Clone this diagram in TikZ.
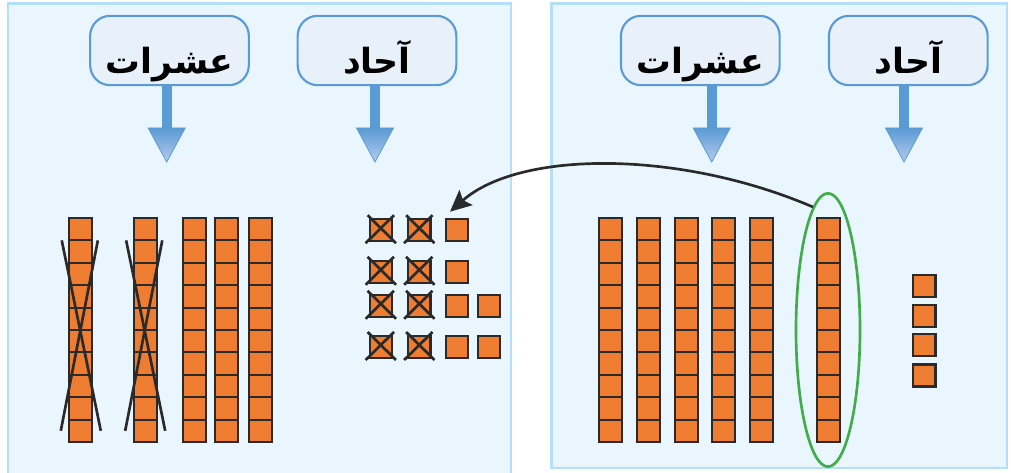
\documentclass[tikz,border=0pt]{standalone}
\usepackage{fontspec}
\usepackage{tikz}
\usetikzlibrary{arrows.meta,positioning,shapes.geometric}
\TeXXeTstate=1
\newfontfamily\arabicfont[Script=Arabic]{DejaVu Sans}
\definecolor{panelfill}{HTML}{EAF6FD}
\definecolor{panelline}{HTML}{B3E0F6}
\definecolor{boxline}{HTML}{5B9BD5}
\definecolor{boxfill}{HTML}{E8F1FA}
\definecolor{headlight}{HTML}{B4CBEC}
\definecolor{cellfill}{HTML}{EE7D31}
\definecolor{cellline}{HTML}{2A2A2A}
\definecolor{grpgreen}{HTML}{41AD4A}
\newcommand{\arlabel}[1]{{\arabicfont\bfseries\beginR #1\endR}}

\begin{document}
\begin{tikzpicture}[
  x=0.75pt, y=-0.75pt,
  font=\fontsize{26}{30}\selectfont,
  panel/.style={fill=panelfill, draw=panelline, line width=1.8pt},
  place/.style={draw=boxline, fill=boxfill, line width=1.6pt,
    rounded corners=15pt, minimum width=119pt, minimum height=52pt,
    inner sep=0pt, text height=35pt, text depth=0pt, align=center},
  shaft/.style={draw=boxline, line width=7.5pt},
  head/.style={top color=boxline, bottom color=headlight, draw=boxline,
    line width=0.6pt},
  cell/.style={draw=cellline, fill=cellfill, line width=1.6pt,
    minimum width=17.25pt, minimum height=16.8pt, inner sep=0pt,
    outer sep=0pt},
  unit/.style={cell, minimum width=16.8pt, minimum height=16.5pt},
  strike/.style={draw=cellline, line width=2pt},
  grp/.style={ellipse, draw=grpgreen, line width=2pt,
    minimum width=48pt, minimum height=205pt, inner sep=0pt},
  carryarr/.style={-{Stealth[length=16pt,width=15pt,inset=3pt]},
    draw=cellline, line width=2pt}
]
\clip (0,0) rectangle (1011,473);
\useasboundingbox (0,0) rectangle (1011,473);

\draw[panel] (8,3.5) rectangle (511,480);
\draw[panel] (551.5,3.5) rectangle (1007,468);

\node[place] (tensL) at (169.5,50.5) {\arlabel{عشرات}};
\node[place] (onesL) at (377,50.5) {\arlabel{آحاد}};
\node[place] (tensR) at (700.3,50.5) {\arlabel{عشرات}};
\node[place] (onesR) at (908.3,50.5) {\arlabel{آحاد}};

\foreach \b/\x in {tensL/166.7, onesL/375, tensR/711.7, onesR/904} {
  \coordinate (\b-tip) at (\x,129);
  \draw[shaft] (\b.south -| \b-tip) -- (\b-tip);
  \shade[head] (\x-18.5,128) -- (\x+18.5,128) -- (\x,162) -- cycle;
}

\foreach \r/\x in {L1/80.8, L2/145.2, L3/194.7, L4/226.7, L5/260.7,
    R1/610.8, R2/648.5, R3/686.2, R4/723.8, R5/761.8, R6/828.2}
  \foreach \j in {0,...,9}
    \node[cell] (\r-\j) at (\x,229.2+22.4*\j) {};

\foreach \r in {L1, L2} {
  \draw[strike] ([xshift=-14.3pt]\r-1.north) -- ([xshift=15pt]\r-9.center);
  \draw[strike] ([xshift=12.8pt]\r-1.north) -- ([xshift=-15pt]\r-9.center);
}

\foreach \i/\y/\n in {1/230.2/3, 2/271.8/3, 3/305.8/4, 4/347/4}
  \foreach \c/\x in {1/380.8, 2/419.3, 3/457, 4/488.8} {
    \ifnum\c>\n\relax\else
      \node[unit] (u\i\c) at (\x,\y) {};
    \fi
  }

\foreach \i in {1,...,4}
  \foreach \c in {1,2} {
    \draw[strike] ([shift={(-2,-4)}]u\i\c.north west)
      -- ([shift={(4,2)}]u\i\c.south east);
    \draw[strike] ([shift={(2,-4)}]u\i\c.north east)
      -- ([shift={(-4,2)}]u\i\c.south west);
  }

\foreach \i/\y in {1/286, 2/316, 3/345, 4/375.5}
  \node[unit] (v\i) at (924.3,\y) {};

\node[grp] (grp) at (828,330) {};
\coordinate (carry) at (450,211.7);
\draw[carryarr] (grp.97) .. controls (680,150) and (520,150) .. (carry);
\end{tikzpicture}
\end{document}
